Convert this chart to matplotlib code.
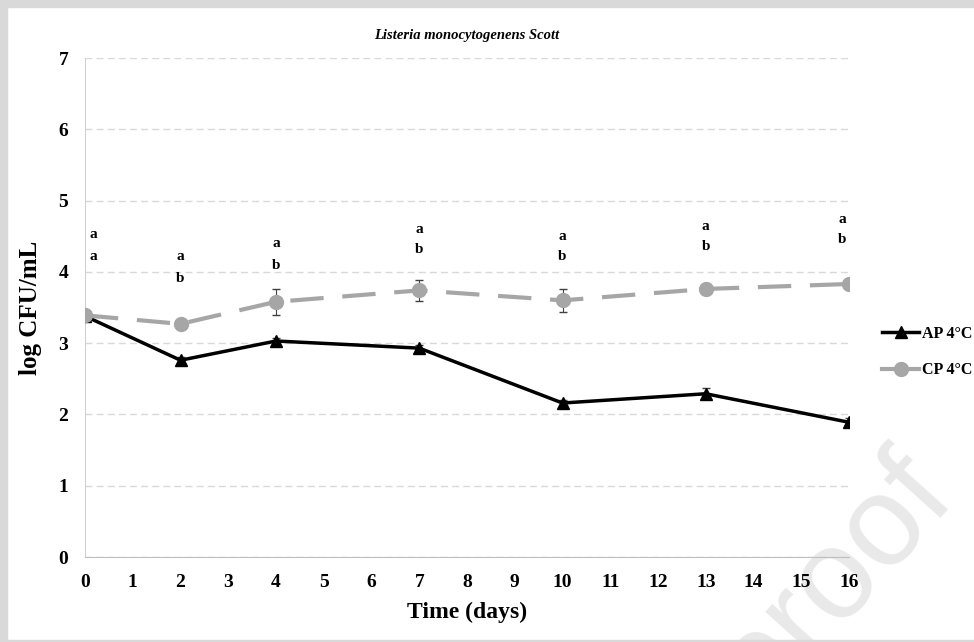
import numpy as np
import matplotlib
matplotlib.use('Agg')
import matplotlib.pyplot as plt
from matplotlib.patches import Rectangle
from matplotlib.lines import Line2D

# datos
dias = [0, 2, 4, 7, 10, 13, 16]
ap_4c = [3.38, 2.76, 3.03, 2.93, 2.16, 2.29, 1.89]
ap_err = [0.03, 0.04, 0.04, 0.05, 0.04, 0.08, 0.06]
cp_4c = [3.39, 3.27, 3.58, 3.74, 3.60, 3.76, 3.83]
cp_err = [0.03, 0.05, 0.18, 0.15, 0.16, 0.04, 0.03]

# letras de significancia (fila superior / inferior) y su altura
letra_sup = ['a', 'a', 'a', 'a', 'a', 'a', 'a']
letra_inf = ['a', 'b', 'b', 'b', 'b', 'b', 'b']
altura_sup = [4.52, 4.21, 4.40, 4.60, 4.50, 4.64, 4.74]
altura_inf = [4.21, 3.90, 4.09, 4.32, 4.21, 4.35, 4.45]

plt.rcParams['font.family'] = ['Liberation Serif', 'DejaVu Serif']
plt.rcParams['font.weight'] = 'bold'

fig = plt.figure(figsize=(9.74, 6.42), dpi=100)
fig.patch.set_facecolor('white')

# marco gris alrededor de la figura
W, H = 974, 642
fig.patches.append(Rectangle((0, 0), 7 / W, 1, transform=fig.transFigure, color='#d9d9d9', zorder=0))
fig.patches.append(Rectangle((0, 1 - 7 / H), 1, 7 / H, transform=fig.transFigure, color='#d9d9d9', zorder=0))
fig.patches.append(Rectangle((0, 0), 1, 2 / H, transform=fig.transFigure, color='#d9d9d9', zorder=0))

# marca de agua
fig.text(958 / W, 1 - 500 / H, 'Journal Pre-proof', fontsize=92, color='#e9e9e9',
         family='Liberation Sans', fontweight='normal', rotation=48,
         rotation_mode='anchor', ha='right', va='baseline', zorder=-1)

ax = fig.add_axes([85 / W, 1 - 557 / H, (849 - 85) / W, (557 - 58) / H])
ax.patch.set_alpha(0)

ax.errorbar(dias, ap_4c, yerr=ap_err, color='black', lw=2.5,
            marker='^', markersize=9, ecolor='#404040', elinewidth=0.8, capsize=3,
            zorder=3)
ax.errorbar(dias, cp_4c, yerr=cp_err, color='#a6a6a6', lw=3, dashes=(8, 4.5),
            marker='o', markersize=10, ecolor='#404040', elinewidth=0.8, capsize=3,
            zorder=4)

for i, d in enumerate(dias):
    dx = 0.17 if i == 0 else (-0.15 if i == len(dias) - 1 else 0)
    ax.text(d + dx, altura_sup[i], letra_sup[i], ha='center', va='center', fontsize=11)
    ax.text(d + dx, altura_inf[i], letra_inf[i], ha='center', va='center', fontsize=11)

ax.set_xlim(0, 16)
ax.set_ylim(0, 7)
ax.set_xticks(range(0, 17))
ax.set_yticks(range(0, 8))
ax.tick_params(length=0, labelsize=14, pad=12)
ax.yaxis.grid(True, color='#d9d9d9', linestyle=(0, (5, 3)), linewidth=1)
ax.set_axisbelow(True)
for s in ['top', 'right']:
    ax.spines[s].set_visible(False)
ax.spines['left'].set_color('#d0d0d0')
ax.spines['bottom'].set_color('#bfbfbf')

ax.set_title('Listeria monocytogenens Scott', fontsize=10.5, style='italic',
             fontweight='bold', pad=14)
ax.set_xlabel('Time (days)', fontsize=17, fontweight='bold', labelpad=8)
ax.set_ylabel('log CFU/mL', fontsize=18, fontweight='bold', labelpad=12)

h = [Line2D([], [], color='black', lw=2.5, marker='^', markersize=9),
     Line2D([], [], color='#a6a6a6', lw=3, marker='o', markersize=10)]
fig.legend(h, ['AP 4°C', 'CP 4°C'], loc='center left', bbox_to_anchor=(868 / W, 1 - 352 / H),
           frameon=False, fontsize=11.5, handlelength=2.3, handletextpad=0.2,
           labelspacing=1.3)

plt.savefig('out.png', dpi=100)
